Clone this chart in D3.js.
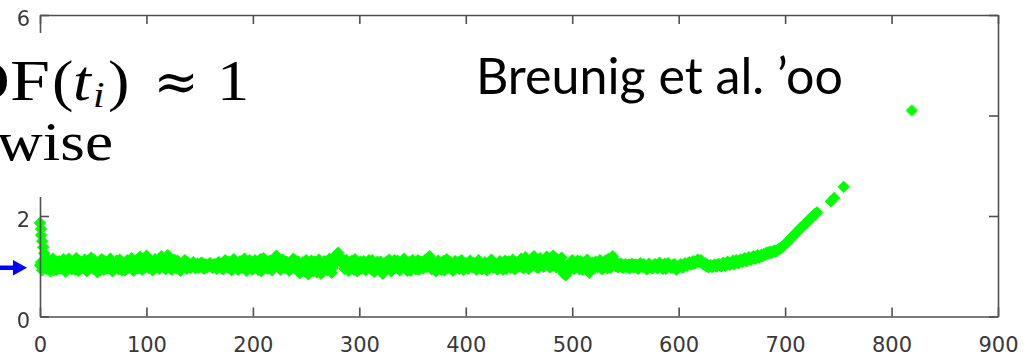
<!DOCTYPE html>
<html>
<head>
<meta charset="utf-8">
<script src="https://cdn.jsdelivr.net/npm/d3@7"></script>
<style>
  html, body { margin: 0; padding: 0; background: #fff; overflow: hidden; }
  svg { display: block; }
</style>
</head>
<body>
<svg id="chart" width="1035" height="358"></svg>
<script>
// Local outlier factor for each point index 0..730, plus a few isolated points.
const xTicks = [0, 100, 200, 300, 400, 500, 600, 700, 800, 900];
const yTicks = [0, 2, 4, 6];
const lofVals = [
  1.02,1.08,0.92,1.03,1.12,0.98,0.95,1.13,1.08,0.97,0.90,1.06,1.15,0.92,1.00,1.10,0.93,1.04,1.10,0.96,
  0.97,1.07,1.14,1.01,0.89,0.99,1.05,1.15,1.12,0.98,0.94,1.09,1.02,0.93,1.16,1.04,0.91,1.11,1.07,0.96,
  0.98,1.06,1.13,0.94,0.90,1.10,1.04,0.97,1.17,1.02,0.95,1.12,1.09,0.99,0.88,1.07,1.01,0.93,1.14,1.04,
  0.93,1.10,1.06,0.96,0.97,1.03,1.15,0.95,0.90,1.08,1.03,0.98,1.11,1.01,0.94,1.13,1.08,0.92,0.99,1.05,
  0.92,1.04,1.12,0.97,1.00,1.09,1.16,0.95,0.91,1.02,1.06,1.13,0.96,1.05,1.19,1.00,0.93,1.08,1.10,0.98,
  1.21,1.03,0.97,1.12,1.05,0.94,0.92,1.07,1.14,0.99,1.02,1.11,0.95,1.04,1.20,1.01,1.08,0.97,0.94,1.06,
  1.22,1.10,1.00,0.95,0.93,1.06,1.13,1.01,0.96,1.11,1.08,0.98,0.91,1.00,1.04,1.09,1.12,0.99,0.95,1.07,
  1.03,0.97,0.98,1.06,1.08,1.01,0.96,1.03,1.05,0.97,0.99,1.06,1.07,1.00,0.95,1.04,1.03,0.98,1.00,1.05,
  1.06,1.00,0.97,1.03,1.04,0.99,0.95,1.06,1.08,1.01,1.00,0.96,0.94,1.07,1.12,1.02,0.98,1.09,1.05,0.95,
  0.92,1.03,1.14,1.08,1.01,0.96,0.93,1.06,1.10,1.00,0.97,1.11,1.15,1.03,0.91,0.98,1.06,1.12,1.02,0.94,
  0.94,1.05,1.12,1.02,0.99,0.93,1.08,1.14,0.90,1.01,1.16,1.07,1.03,0.97,0.95,1.09,1.11,1.00,0.92,1.04,
  1.06,1.15,1.21,1.10,1.00,0.96,0.93,1.05,1.13,1.02,0.97,1.09,1.08,0.98,0.91,1.03,1.04,1.10,1.15,0.99,
  0.96,1.04,1.10,0.95,0.86,0.99,1.02,1.08,0.93,0.89,1.12,1.01,0.84,0.94,1.05,1.11,0.97,0.90,1.09,1.03,
  0.88,0.96,1.13,1.06,0.85,0.92,0.99,1.10,1.07,0.95,0.92,1.02,1.15,1.05,0.87,0.97,1.04,1.14,1.22,1.16,
  1.27,1.20,1.18,1.10,1.05,1.13,0.95,1.02,1.12,1.04,0.91,0.99,1.06,1.11,0.98,0.93,1.14,1.05,0.90,0.97,
  1.03,1.09,0.95,1.01,1.10,1.04,0.92,0.98,1.07,1.12,0.99,0.94,1.12,1.03,0.89,0.97,1.04,1.09,0.96,1.01,
  1.09,0.96,0.85,0.91,1.02,1.08,0.94,1.00,1.13,1.05,0.90,0.97,1.06,1.12,0.97,1.03,1.11,0.99,0.92,1.06,
  1.04,1.10,1.15,1.02,0.95,0.91,1.01,1.08,0.91,0.99,1.12,1.05,0.98,0.94,1.06,1.12,0.93,1.00,1.09,1.03,
  0.96,1.05,1.13,0.99,1.02,1.12,1.20,1.08,0.94,1.01,1.07,0.97,0.90,1.03,1.11,1.06,0.99,0.93,1.04,1.10,
  0.92,1.00,1.14,1.07,0.97,1.09,1.05,0.95,0.91,1.02,1.10,1.04,1.00,1.08,0.95,0.98,1.12,1.06,0.93,1.01,
  1.06,0.99,0.95,1.04,1.11,1.02,0.98,1.07,1.03,0.96,0.93,1.01,1.12,1.06,1.00,0.94,0.96,1.05,1.08,1.00,
  0.92,0.98,1.04,1.10,1.13,1.02,0.97,1.07,1.01,0.95,0.94,1.03,1.10,1.05,0.99,0.93,1.06,1.11,0.95,1.02,
  1.09,1.02,0.97,1.06,1.13,1.00,0.94,1.08,1.05,0.99,1.00,1.11,1.15,1.03,0.96,1.10,1.18,1.07,1.02,0.95,
  0.98,1.06,1.12,1.15,1.20,1.09,1.04,0.98,0.97,1.08,1.16,1.11,1.08,0.99,1.01,1.13,1.19,1.06,1.05,0.98,
  0.99,1.10,1.21,1.13,1.06,0.98,1.14,1.04,0.97,1.08,1.17,0.95,0.85,0.91,0.82,0.87,0.90,0.97,1.04,1.09,
  1.12,1.01,0.95,1.03,1.07,1.11,0.99,0.94,1.10,1.03,0.93,0.99,1.05,1.09,1.13,0.96,0.87,0.93,1.02,1.07,
  0.95,1.02,1.09,1.00,0.98,1.06,1.12,1.03,0.94,0.99,1.06,1.11,1.01,0.96,1.15,1.08,0.97,1.13,1.20,1.14,
  1.08,1.00,1.03,0.98,0.99,1.02,1.05,0.98,0.97,1.01,1.04,0.99,1.00,1.03,0.96,1.01,1.05,0.99,0.98,1.03,
  1.03,0.98,0.95,1.01,1.06,1.00,0.99,1.04,1.02,0.97,0.94,1.00,1.05,1.02,1.00,0.96,0.97,1.03,1.04,0.99,
  0.96,1.02,1.07,1.01,0.99,0.95,1.03,1.05,0.95,1.00,1.06,1.02,1.01,0.97,0.97,1.03,1.04,0.98,0.93,0.99,
  0.98,1.01,1.04,0.99,0.97,1.03,1.06,1.02,1.01,1.06,1.08,1.05,1.04,1.09,1.10,1.06,1.07,1.11,1.13,1.09,
  1.10,1.12,1.07,1.04,1.03,1.06,1.00,1.03,0.98,1.01,1.02,0.99,0.99,1.02,1.03,1.00,1.00,1.04,1.04,1.01,
  1.00,1.04,1.07,1.03,1.01,1.06,1.09,1.05,1.03,1.07,1.08,1.11,1.04,1.09,1.12,1.08,1.06,1.11,1.13,1.10,
  1.09,1.14,1.16,1.12,1.10,1.15,1.18,1.14,1.13,1.17,1.20,1.16,1.15,1.19,1.22,1.18,1.17,1.21,1.23,1.20,
  1.24,1.22,1.26,1.27,1.25,1.28,1.29,1.26,1.28,1.30,1.31,1.29,1.30,1.33,1.34,1.35,1.36,1.38,1.40,1.42,
  1.44,1.46,1.48,1.50,1.52,1.55,1.57,1.59,1.61,1.64,1.66,1.68,1.70,1.73,1.75,1.77,1.79,1.81,1.83,1.85,
  1.87,1.88,1.92,1.93,1.96,1.97,2.00,2.01,2.04,2.05,2.07
];
const extraIdx  = [0, 1, 1, 2, 3, 4, 743, 746, 755, 819];
const extraVals = [1.86, 1.74, 1.62, 1.50, 1.38, 1.26, 2.29, 2.36, 2.58, 4.10];

const points = lofVals.map((v, i) => ({ idx: i, lof: v }))
  .concat(extraIdx.map((k, i) => ({ idx: k, lof: extraVals[i] })));

const svg = d3.select("#chart");
const plotLeft = 40, plotRight = 998, plotTop = 15, plotBottom = 316.5;

const x = d3.scaleLinear().domain([0, 900]).range([plotLeft, plotRight]);
const y = d3.scaleLinear().domain([0, 6]).range([plotBottom, plotTop]);

// soft edge on the markers
const defs = svg.append("defs");
defs.append("filter").attr("id", "soft")
  .append("feGaussianBlur").attr("stdDeviation", 0.7);

// green diamond markers
const diamond = d3.symbol().type(d3.symbolSquare).size(76)();
svg.append("g")
  .attr("filter", "url(#soft)")
  .selectAll("path")
  .data(points)
  .join("path")
  .attr("d", diamond)
  .attr("transform", d => `translate(${x(d.idx)},${y(d.lof)}) rotate(45)`)
  .attr("fill", "#00ff00");

// boxed axes with inward ticks
const axisColor = "#505050";
const tickLen = 9;
function styleAxis(g) {
  g.selectAll("path.domain").attr("stroke", axisColor).attr("stroke-width", 1.6);
  g.selectAll(".tick line").attr("stroke", axisColor).attr("stroke-width", 1.6);
  g.selectAll(".tick text")
    .attr("fill", "#383838")
    .style("font-family", "'DejaVu Sans', sans-serif")
    .style("font-size", "21px");
}

svg.append("g")
  .attr("transform", `translate(0,${plotBottom})`)
  .call(d3.axisBottom(x).tickValues(xTicks).tickSize(-tickLen).tickSizeOuter(0)
    .tickPadding(21).tickFormat(d3.format("d")))
  .call(styleAxis);

svg.append("g")
  .attr("transform", `translate(0,${plotTop})`)
  .call(d3.axisTop(x).tickValues(xTicks).tickSize(-tickLen).tickSizeOuter(0).tickFormat(""))
  .call(styleAxis);

svg.append("g")
  .attr("transform", `translate(${plotRight},0)`)
  .call(d3.axisRight(y).tickValues(yTicks).tickSize(-tickLen).tickSizeOuter(0).tickFormat(""))
  .call(styleAxis);

// the "4" label sits under the text panel, so it is left blank
const yAxisG = svg.append("g")
  .attr("transform", `translate(${plotLeft},0)`)
  .call(d3.axisLeft(y).tickValues(yTicks).tickSize(-tickLen).tickSizeOuter(0)
    .tickPadding(10).tickFormat(d => d === 4 ? "" : d3.format("d")(d)))
  .call(styleAxis);
yAxisG.selectAll(".tick text").attr("dy", "0.5em");

// slide text panel laid over the left part of the plot
svg.append("rect")
  .attr("x", 0).attr("y", 33).attr("width", 262).attr("height", 164)
  .attr("fill", "#fff");

const serif = "'Liberation Serif', 'Times New Roman', serif";
const stretch = 1.15;
function tex(str, xPos, yPos, opts = {}) {
  return svg.append("text")
    .attr("transform", `translate(${xPos},${yPos}) scale(${opts.sx || stretch},1)`)
    .attr("text-anchor", opts.anchor || "start")
    .attr("fill", "#000")
    .style("font-family", opts.family || serif)
    .style("font-size", (opts.size || 56) + "px")
    .style("font-style", opts.italic ? "italic" : "normal")
    .text(str);
}
tex("LOF", 50, 99.5, { anchor: "end", size: 58, sx: 1.24 });
tex("(", 52, 99.5);
tex("t", 73, 99.5, { italic: true });
tex("i", 93, 107, { italic: true, size: 36 });
tex(")", 108, 99.5);
tex("\u2248", 176, 99.5, { anchor: "middle", family: "'DejaVu Serif', serif", size: 54, sx: 1 });
tex("1", 233, 99.5, { anchor: "middle" });
tex("otherwise", 113, 160, { anchor: "end", size: 55 });

// citation label, fitted to its width
const cite = svg.append("text")
  .attr("x", 476).attr("y", 94)
  .attr("fill", "#000")
  .style("font-family", "Lato, 'Open Sans', sans-serif")
  .style("font-size", "50px")
  .text("Breunig et al. \u2019oo");
const w0 = cite.node().getComputedTextLength();
cite.style("font-size", (50 * 367 / w0).toFixed(2) + "px");

// blue pointer arrow at LOF = 1
svg.append("path")
  .attr("d", "M-5,265.5 L13,265.5 L13,260 L27,267.7 L13,275.5 L13,270 L-5,270 Z")
  .attr("fill", "#0000ff");
</script>
</body>
</html>
